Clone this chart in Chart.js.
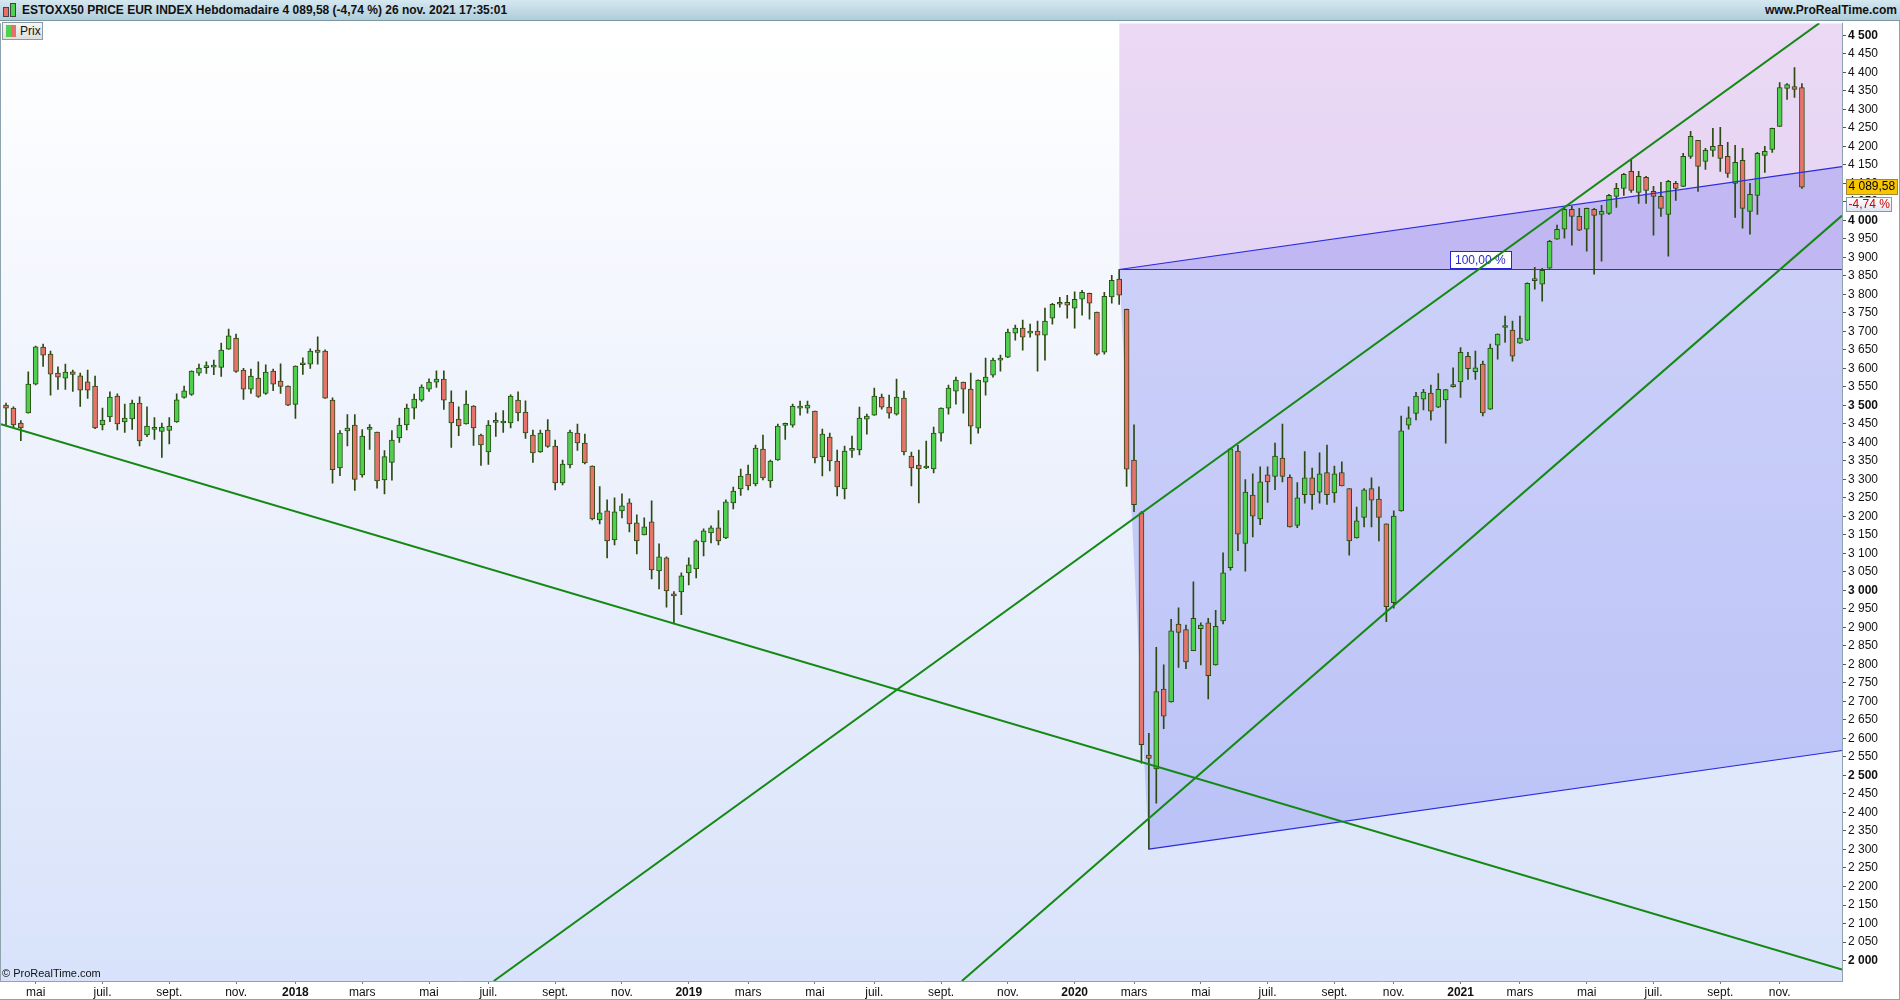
<!DOCTYPE html>
<html><head><meta charset="utf-8">
<script src="https://cdn.jsdelivr.net/npm/chart.js@4.4.1/dist/chart.umd.min.js"></script>
<style>
html,body{margin:0;padding:0;width:1900px;height:1000px;overflow:hidden;background:#fff;font-family:"Liberation Sans",Arial,sans-serif;}
#hdr{position:absolute;left:0;top:0;width:1900px;height:20px;background:linear-gradient(#d5e8f0,#b0cddb);border-bottom:1px solid #7d96a4;z-index:10;}
#title{position:absolute;left:22px;top:3px;font-weight:bold;font-size:12px;color:#111;white-space:nowrap;}
#site{position:absolute;right:3px;top:3px;font-weight:bold;font-size:12px;color:#111;}
.ic{position:absolute;border:1px solid #444;}
#wrap{position:absolute;left:0;top:14px;width:1900px;height:986px;z-index:1;}
#prix{position:absolute;left:2px;top:22px;width:39px;height:16px;border:1px solid #8c9ba3;background:linear-gradient(#f6f6f6,#dedede);z-index:5;}
#prix span{position:absolute;left:17px;top:1px;font-size:12px;color:#111;}
</style></head>
<body>
<div id="hdr">
  <div class="ic" style="left:3px;top:7px;width:4px;height:8px;background:#e8706a;"></div>
  <div class="ic" style="left:10px;top:3px;width:4px;height:12px;background:#4fd04f;"></div>
  <div id="title">ESTOXX50 PRICE EUR INDEX Hebdomadaire 4 089,58 (-4,74 %) 26 nov. 2021 17:35:01</div>
  <div id="site">www.ProRealTime.com</div>
</div>
<div id="prix">
  <div style="position:absolute;left:3px;top:2px;width:5px;height:12px;background:#4fd04f;"></div>
  <div style="position:absolute;left:8px;top:2px;width:5px;height:12px;background:#e8706a;"></div>
  <span>Prix</span>
</div>
<div id="wrap"><canvas id="c"></canvas></div>
<script>
// ---- weekly candles (index 0 = week of 3 Apr 2017) ----
const open = [3500.7,3492.6,3452,3479.2,3557.4,3657.3,3638.4,3587.1,3573.6,3590.7,3579.9,3563.7,3552,3446.8,3468.4,3525,3454.9,3463,3506.1,3419.8,
3435.1,3429.7,3432.4,3454.9,3521.4,3529.5,3587.1,3602,3603.3,3602.4,3651.9,3681.5,3595.2,3543.9,3573.6,3532.2,3592.5,3565.5,3552,3502.5,
3609.6,3611.4,3649.2,3646.5,3514.2,3330.7,3430.6,3446.8,3311.8,3435.1,3427.9,3298.4,3346,3411.7,3446.8,3492.6,3514.2,3543.9,3562.8,3570.9,
3508.8,3463,3449.5,3498,3419.8,3373.9,3454,3452.2,3452.2,3514.2,3481.9,3419.8,3373.9,3433.3,3390.1,3290.3,3338.8,3425.2,3398.2,3336.1,
3190.4,3214.7,3136.4,3214.7,3236.3,3182.3,3150,3185,3052.8,3087.9,2990.7,2996.1,3047.4,3058.2,3131,3155.3,3168.8,3141.8,3236.2,3274,
3314.4,3287.5,3381.9,3295.6,3352.2,3445.8,3446.7,3492.6,3492.6,3484.5,3360.3,3414.3,3349.5,3274,3378.3,3379.2,3462.9,3473.7,3522.2,3495.2,
3476.4,3519.5,3363,3338.7,3330.6,3327.9,3425.1,3492.6,3538.4,3562.7,3543.8,3438.6,3562.7,3581.6,3622.1,3630.2,3694.9,3708.4,3694.9,3700.3,
3689.5,3735.4,3773.2,3778.6,3762.4,3786.7,3802.9,3751.6,3643.7,3793,3840.8,3759.2,3352.3,3209.8,2555,2517.9,2733.7,2698.6,2909.3,2893.8,
2837,2896.9,2912.4,2798.8,2917.6,3061.1,3376.1,3127.2,3257.3,3193.3,3312.1,3307.9,3357.5,3305.8,3175.7,3258.3,3303.8,3265.6,3318.2,3263.5,
3318.2,3274.9,3141.6,3197.4,3274.9,3247,3179.9,2967.1,3215,3446.3,3478.3,3516.5,3533,3494.8,3514.4,3550.6,3563,3632.2,3590.9,3611.5,
3489.8,3662.5,3710.2,3703,3667.9,3676,3837,3827.1,3870.3,3948.6,3975.6,4029.5,4010.7,3975.6,4029.5,4016,4018.7,4064.6,4086.2,4132.1,
4075.4,4115.9,4078.1,4064.6,4016,4099.7,4091.6,4172.6,4215.7,4159.1,4188.8,4202.2,4172.6,4099.7,4161.8,4024.1,4067.3,4175.3,4191.5,4253.5,
4356.1,4361.5,4358.8];
const high = [3506,3496,3458.5,3590.7,3660,3665.4,3646.5,3604.2,3611.4,3595.2,3587.1,3595.2,3579,3492.6,3536.7,3531.3,3503.4,3514.2,3523.2,3496.2,
3466.6,3452.2,3466.6,3531.3,3552,3593,3611.4,3617.7,3622.2,3668.1,3705.8,3692.3,3599.7,3597.9,3617.7,3609.6,3597.9,3612.3,3553,3607,
3628.5,3652.8,3685.1,3650,3520,3431.5,3474.7,3474.7,3434.2,3447.7,3428,3377.5,3431.5,3465.7,3503.4,3530.4,3555.6,3571.8,3593.4,3593.4,
3539.4,3496.2,3539.4,3499,3422.5,3458.5,3480,3485.5,3528.6,3536.7,3512.4,3433.3,3433.3,3461.2,3406.3,3352.3,3433.3,3449.5,3422.5,3336.5,
3280.4,3244.4,3249.8,3260.6,3247.1,3203.9,3195.8,3241.7,3125.6,3090.6,2997,3047.4,3087.9,3136.4,3166.1,3174.2,3215.6,3244.4,3279.3,3328,
3338.8,3392.7,3419.7,3352.2,3449.4,3452,3503.3,3511.4,3511.4,3484.5,3435.9,3425.1,3379.2,3390,3417,3495.2,3476.4,3546.5,3530.3,3527.6,
3570.8,3538.4,3373.8,3379.2,3403.5,3441.3,3493,3554.6,3576.2,3563,3587,3569,3627.5,3627.5,3635.6,3705.7,3716.5,3730,3719.2,3727.3,
3762.4,3775.9,3792.1,3797.5,3806.5,3811,3803,3752,3805.6,3851.5,3867,3760,3447.3,3212.9,2613.9,2846.3,2798.8,2921.7,2952.6,2906.2,
3022.9,2912.4,2924.8,2946.4,3101.4,3383,3391.6,3299.6,3315.2,3333.7,3333.7,3397.8,3449.4,3312.1,3291.4,3375,3330.6,3372,3392.6,3335.8,
3347.2,3275,3225.3,3274.9,3303.8,3280,3180,3215,3471.1,3495.9,3535.1,3543.4,3554.7,3585.7,3543,3601.2,3655.9,3643.5,3646.6,3619.8,
3665.2,3693,3740.8,3727.3,3740.8,3831,3872.9,3870.3,3945.9,3987.3,4034.9,4037.6,4032.2,4033,4032.2,4040.3,4070,4099.7,4126.7,4164.5,
4132.1,4118.6,4091.6,4102.4,4107.8,4105.1,4180.7,4240,4216,4194.1,4248.1,4250.8,4210.3,4202.2,4194.1,4099.7,4183.4,4199.5,4249,4372.3,
4369.6,4412.7,4369.6];
const low = [3445,3440.5,3404.5,3479,3555,3605.1,3527.7,3543,3543,3537.6,3497.1,3518.7,3437,3433.3,3455.8,3433.3,3427,3435.1,3390.1,3415.3,
3408.1,3359.5,3395.5,3454,3519.6,3526.8,3580.8,3586.2,3582.6,3578.1,3651,3588.9,3516,3532.2,3521.4,3529.5,3539.4,3532.2,3499,3464.8,
3583.5,3599.7,3611.4,3519,3290,3310,3390.1,3270,3305.6,3381.1,3275.9,3260.6,3297.5,3400,3433.3,3463,3510.6,3537.6,3548.4,3489.1,
3386.5,3418,3449,3391.9,3337.9,3340.6,3416.2,3427,3438.7,3457.6,3410.8,3346,3373,3386.5,3271.4,3284.9,3330.7,3378.4,3341.5,3190.4,
3179.6,3087.9,3122.9,3195.8,3158,3098.7,3150,3031.2,3004.2,2954.7,2909.8,2934.1,3015,3033.9,3093.3,3128.3,3122.9,3140,3220,3256.9,
3271.3,3282.1,3298.3,3278.5,3351,3408,3441.3,3473.6,3479.1,3344.1,3309.1,3322.5,3255.1,3247,3359.4,3365.7,3422.4,3473,3489.8,3465.6,
3473.7,3365.7,3282.1,3236.2,3329,3317.2,3403.5,3476.4,3503.3,3479.1,3395.4,3425.1,3527.6,3576.2,3592.4,3629,3676,3649.1,3684.1,3592.4,
3622.1,3719.2,3765.1,3735.4,3708.4,3743.5,3732.7,3635.6,3638.3,3775.9,3772.6,3281.1,3212.9,2533.4,2301,2424.9,2626.3,2698,2791.6,2788.5,
2837,2798.8,2706.9,2798,2909.3,3054.9,3107.6,3051.8,3144.7,3177.8,3237.7,3271.8,3293.4,3171,3169.5,3235.6,3219.1,3235.6,3232.5,3237.7,
3282,3095.2,3141,3171.6,3171.6,3133.4,2915.5,2951.7,3214,3435.9,3460.8,3487.6,3459.7,3494,3397.8,3549,3521.7,3570.2,3570.2,3471.1,
3489,3624.8,3669.7,3619.4,3667,3675,3813.7,3781.3,3870,3948,3951.3,3932.4,3972,3916.2,3854.1,3889.2,4016,4034.9,4067.3,4075.4,
4045.7,4045.7,3959.4,4010.7,3902.7,4053.8,4091,4167.2,4078.1,4137.5,4172.6,4132.1,4115.9,4008,3978.3,3962.1,4016,4129.4,4183.4,4253,
4326.4,4331.8,4086];
const close = [3492.6,3446.8,3438.7,3557.4,3658.2,3635.7,3584.4,3576.3,3589.8,3583.5,3541.2,3541.2,3438.7,3460.3,3522.3,3449.5,3465.7,3506.1,3403.6,3444.1,
3435.1,3441.4,3444.1,3515.1,3539.4,3592.5,3600.6,3603.3,3606,3649.2,3687.8,3591.6,3543.9,3579,3524.1,3589.8,3557.4,3551.1,3500.7,3606,
3611.4,3646.5,3642.9,3519.6,3326,3425.2,3438.7,3300,3417.1,3435.1,3295.7,3361.3,3406.3,3446.8,3492.6,3517,3549.3,3562.8,3570.9,3514.2,
3452.2,3444.1,3503.4,3438.7,3392.8,3446.8,3454,3457.6,3525,3479.2,3425.2,3371.2,3425.2,3389.2,3290.3,3341.5,3427.9,3398.2,3344.2,3193.1,
3209.3,3133.7,3212,3228.2,3179.6,3133.7,3171.9,3055.5,3090.6,2998.8,2985.3,3039.3,3069,3133.7,3160.7,3168.8,3133.7,3239,3268.6,3309,
3282.1,3384.6,3303.6,3349.5,3444,3445.8,3497.9,3497.9,3500.6,3357.6,3422.4,3349.5,3279.3,3376.5,3378.3,3465.6,3470.9,3524.9,3495.2,3479.1,
3522.2,3373.8,3330.6,3327.9,3330.6,3425.1,3492.6,3546.5,3568.1,3543.8,3444,3568.1,3576.2,3622.1,3622.1,3697.6,3708.4,3684.1,3700.3,3689.5,
3727.3,3773.2,3778.6,3770.5,3786.7,3805.6,3775.9,3638.3,3794.8,3838,3797.4,3327.5,3231.5,2583,2545.8,2726.5,2660.4,2890.6,2886.5,2807.1,
2924.8,2906.2,2769.9,2903.1,3047.7,3382.3,3152,3265.6,3200.5,3293.4,3293.4,3362.6,3307.9,3171.6,3250.1,3303.8,3258.3,3315.2,3258.3,3315.2,
3282.1,3133.4,3188.1,3271.8,3243.9,3197.4,2955.8,3200.5,3430.8,3465.9,3524.8,3536.1,3484.5,3543.4,3542.3,3550.6,3643.5,3599.1,3601.2,3479.3,
3654.4,3692.2,3710.2,3632.9,3681.4,3829.8,3837,3864.9,3943.2,3975.6,4029.5,4010.7,3972.9,4032.2,4013.3,4024.1,4067.3,4086.2,4124,4080.8,
4118.6,4080.8,4064.6,4032.2,4105.1,4086.2,4172.6,4226.5,4145.6,4188.8,4199.5,4167.2,4126.7,4156.4,4032.2,4070,4180.7,4186.1,4248.1,4358.8,
4366.9,4353.4,4089.58];
const pctChange = -4.74;

// ---- x axis (week index) tick positions / labels ----
const xTickPos = [4,13,22,31,39,48,57,65,74,83,92,100,109,117,126,135,144,152,161,170,179,187,196,204,213,222,231,239];
const xTickLabels = ['mai','juil.','sept.','nov.','2018','mars','mai','juil.','sept.','nov.','2019','mars','mai','juil.','sept.','nov.','2020','mars','mai','juil.','sept.','nov.','2021','mars','mai','juil.','sept.','nov.'];
const xRange = [-0.81, 247.4];
// ---- y axis ----
const yRange = [1944.7, 4532.4];
const yTicks = []; for (let v = 2000; v <= 4500; v += 50) yTicks.push(v);

// ---- drawn objects (week index, price) ----
const trendDown  = [[-0.81, 3449.5], [247.4, 1975.7]];
const trendUpA   = [[65.73, 1944.7], [244.34, 4532.4]];
const trendUpB   = [[128.8, 1944.7], [247.4, 4012.7]];
const levelLine  = [[150, 3867], [247.4, 3867]];
const chanUpper  = [[150, 3867], [247.4, 4144.9]];
const chanLower  = [[154, 2301], [247.4, 2567.5]];
const chanLeftEdge = [[150, 3867], [154, 2301], [247.4, 2567.5]];
const zoneTop    = [[150, 4700], [247.4, 4700]];
const levelLabel = {x: 202.8, y: 3867, text: '100,00 %'};

const pts = a => a.map(p => ({x: p[0], y: p[1]}));
const FONT = '"Liberation Sans", Arial, sans-serif';
const GREEN = '#4ed04e', RED = '#e8736b', EDGE = '#2c4a12';

function fmtInt(v){ const s = String(v); return s.length > 3 ? s.slice(0, s.length-3) + ' ' + s.slice(-3) : s; }
function fmtDec(v){ const p = v.toFixed(2).split('.'); return fmtInt(parseInt(p[0])) + ',' + p[1]; }

const lineDs = (data, color, width, order) => ({type:'line', data: pts(data), borderColor: color, borderWidth: width,
  pointRadius: 0, fill: false, tension: 0, order});

const bgPlugin = {
  id: 'bg',
  beforeDraw(chart){
    const {ctx, chartArea: a} = chart;
    ctx.save();
    ctx.fillStyle = '#ffffff';
    ctx.fillRect(0, 0, chart.width, chart.height);
    const g = ctx.createLinearGradient(0, a.top, 0, a.bottom);
    g.addColorStop(0, '#ffffff');
    g.addColorStop(1, '#d8e2fa');
    ctx.fillStyle = g;
    ctx.fillRect(a.left, a.top, a.right - a.left, a.bottom - a.top);
    ctx.restore();
  },
  afterDatasetDraw(chart, args){
    if (args.index !== 6) return; // after the level line: draw its label
    const {ctx} = chart;
    const xs = chart.scales.x, ys = chart.scales.y;
    const xr = xs.getPixelForValue(levelLabel.x), yb = ys.getPixelForValue(levelLabel.y);
    ctx.save();
    ctx.font = '12px ' + FONT;
    const w = ctx.measureText(levelLabel.text).width + 10;
    ctx.fillStyle = '#ffffff';
    ctx.fillRect(Math.round(xr - w) + 0.5, Math.round(yb) - 17.5, Math.round(w), 17);
    ctx.strokeStyle = '#2626d8'; ctx.lineWidth = 1;
    ctx.strokeRect(Math.round(xr - w) + 0.5, Math.round(yb) - 17.5, Math.round(w), 17);
    ctx.fillStyle = '#2a2ad0'; ctx.textBaseline = 'middle'; ctx.textAlign = 'left';
    ctx.fillText(levelLabel.text, Math.round(xr - w) + 5, Math.round(yb) - 8.5);
    ctx.restore();
  },
  afterDraw(chart){
    const {ctx, chartArea: a} = chart;
    const ys = chart.scales.y;
    ctx.save();
    ctx.strokeStyle = '#8fa3ae'; ctx.lineWidth = 1;
    ctx.beginPath(); ctx.moveTo(0.5, a.top); ctx.lineTo(0.5, a.bottom); ctx.stroke();
    ctx.beginPath(); ctx.moveTo(chart.width - 0.5, 0); ctx.lineTo(chart.width - 0.5, chart.height); ctx.stroke();
    ctx.beginPath(); ctx.moveTo(0, chart.height - 0.5); ctx.lineTo(chart.width, chart.height - 0.5); ctx.stroke();
    // copyright
    ctx.font = '11px ' + FONT; ctx.fillStyle = '#111'; ctx.textBaseline = 'alphabetic'; ctx.textAlign = 'left';
    ctx.fillText('\u00A9 ProRealTime.com', 2, a.bottom - 4);
    // last price tag
    const last = close[close.length - 1];
    const yp = Math.round(ys.getPixelForValue(last));
    const x0 = a.right + 4.5;
    ctx.fillStyle = '#f7c600';
    ctx.fillRect(x0, yp - 7.5, 51, 15);
    ctx.strokeStyle = '#a08a3a'; ctx.strokeRect(x0, yp - 7.5, 51, 15);
    ctx.font = '12px ' + FONT; ctx.fillStyle = '#000'; ctx.textBaseline = 'middle';
    ctx.fillText(fmtDec(last), x0 + 2, yp);
    // percent tag
    const g = ctx.createLinearGradient(0, yp + 10, 0, yp + 24);
    g.addColorStop(0, '#ffffff'); g.addColorStop(1, '#dfe6f2');
    ctx.fillStyle = g;
    ctx.fillRect(x0, yp + 10.5, 45, 14);
    ctx.strokeStyle = '#8797a8'; ctx.strokeRect(x0, yp + 10.5, 45, 14);
    ctx.fillStyle = '#cc0000';
    ctx.fillText(pctChange.toFixed(2).replace('.', ',') + ' %', x0 + 2, yp + 18);
    ctx.restore();
  }
};

new Chart(document.getElementById('c'), {
  type: 'bar',
  data: {
    datasets: [
      {type:'line', data: pts(zoneTop), fill: {value: levelLine[0][1]}, backgroundColor: 'rgba(205,160,230,0.40)',
        borderWidth: 0, pointRadius: 0, order: 100},
      {type:'line', data: pts(chanUpper), fill: '+1', backgroundColor: 'rgba(110,115,240,0.30)',
        borderWidth: 0, pointRadius: 0, order: 99},
      {type:'line', data: pts(chanLeftEdge), fill: false, borderWidth: 0, pointRadius: 0, order: 98},
      {type:'bar', data: low.map((l, i) => ({x: i, y: [l, high[i]]})), backgroundColor: EDGE, borderWidth: 0,
        barThickness: 1, grouped: false, order: 60},
      {type:'bar', data: open.map((o, i) => ({x: i, y: [o, close[i]]})),
        backgroundColor: c => (close[c.dataIndex] >= open[c.dataIndex] ? GREEN : RED),
        borderColor: EDGE, borderWidth: 1, borderSkipped: false, barThickness: 5, minBarLength: 2, grouped: false, order: 50},
      lineDs(chanUpper, '#2a2ae0', 1.2, 40),
      lineDs(levelLine, '#2a2ae0', 1.2, 39),
      lineDs(chanLower, '#2a2ae0', 1.2, 38),
      lineDs(trendDown, '#138913', 2, 10),
      lineDs(trendUpA, '#138913', 2, 9),
      lineDs(trendUpB, '#138913', 2, 8)
    ]
  },
  options: {
    responsive: true, maintainAspectRatio: false, animation: false, events: [],
    layout: {padding: {top: 0.8, left: 0, right: 0, bottom: 0}, autoPadding: false},
    plugins: {legend: {display: false}, tooltip: {enabled: false}},
    scales: {
      x: {
        type: 'linear', min: xRange[0], max: xRange[1], offset: false, position: 'bottom',
        afterBuildTicks: s => { s.ticks = xTickPos.map(v => ({value: v})); },
        afterFit: s => { s.height = 19; },
        grid: {drawOnChartArea: false, offset: false, tickLength: 3, color: '#6d7f8a'},
        border: {display: true, color: '#8fa3ae'},
        ticks: {
          autoSkip: false, maxRotation: 0, minRotation: 0, padding: 1, color: '#111',
          callback: (v, i) => xTickLabels[i],
          font: c => ({family: FONT, size: 12, weight: /^\d{4}$/.test(xTickLabels[c.index] || '') ? 'bold' : 'normal'})
        }
      },
      y: {
        type: 'linear', position: 'right', min: yRange[0], max: yRange[1],
        afterBuildTicks: s => { s.ticks = yTicks.map(v => ({value: v})); },
        afterFit: s => { s.width = 58; },
        grid: {drawOnChartArea: false, tickLength: 4, color: '#555'},
        border: {display: true, color: '#8fa3ae'},
        ticks: {
          padding: 2, color: '#111', crossAlign: 'near',
          callback: v => fmtInt(v),
          font: c => ({family: FONT, size: 12, weight: (c.tick && c.tick.value % 500 === 0) ? 'bold' : 'normal'})
        }
      }
    }
  },
  plugins: [bgPlugin]
});
</script>
</body></html>
